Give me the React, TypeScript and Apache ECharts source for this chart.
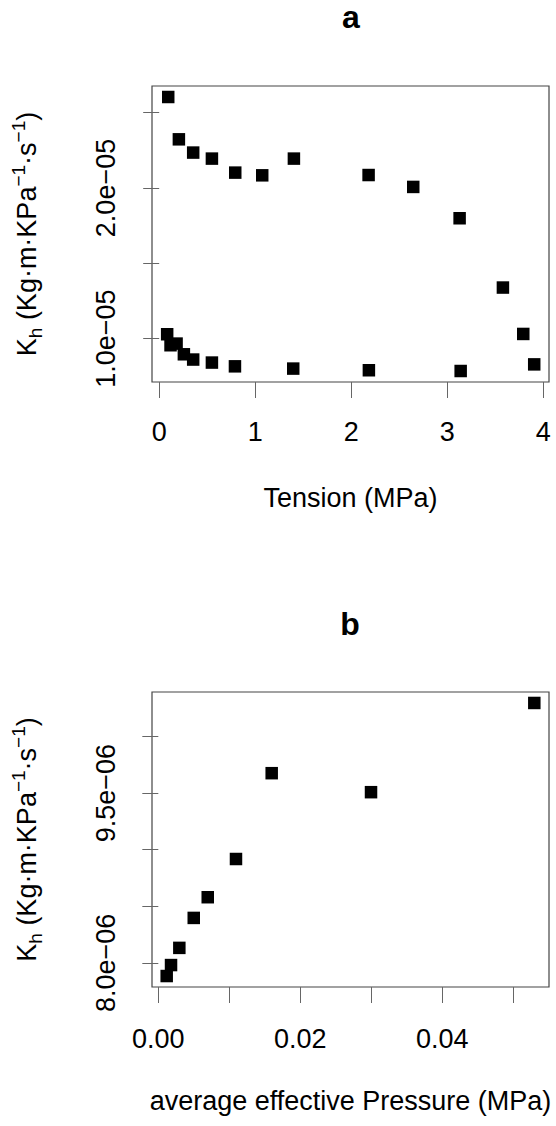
import React, { useEffect, useRef } from "react";
import * as echarts from "echarts";

// ---------- data ----------
// Panel a: hydraulic conductance vs tension
const tensionUpper = [0.094, 0.205, 0.354, 0.549, 0.792, 1.073, 1.403, 2.181, 2.646, 3.129, 3.58, 3.792, 3.906];
const khUpper = [2.604e-5, 2.323e-5, 2.235e-5, 2.195e-5, 2.102e-5, 2.084e-5, 2.195e-5, 2.086e-5, 2.007e-5, 1.799e-5, 1.339e-5, 1.031e-5, 0.829e-5];
const tensionLower = [0.083, 0.118, 0.181, 0.257, 0.354, 0.549, 0.789, 1.396, 2.184, 3.14];
const khLower = [1.029e-5, 0.956e-5, 0.967e-5, 0.896e-5, 0.861e-5, 0.841e-5, 0.816e-5, 0.801e-5, 0.79e-5, 0.785e-5];

// Panel b: hydraulic conductance vs average effective pressure
const pressure = [0.00118, 0.00179, 0.00296, 0.00499, 0.00696, 0.01094, 0.01597, 0.02996, 0.05296];
const khPressure = [7.883e-6, 7.98e-6, 8.132e-6, 8.397e-6, 8.58e-6, 8.918e-6, 9.677e-6, 9.509e-6, 10.298e-6];

// Ticks
const xTicksA = [0, 1, 2, 3, 4];
const yTicksA = [1.0e-5, 1.5e-5, 2.0e-5, 2.5e-5];
const yLabelsA = [1.0e-5, 2.0e-5];
const xTicksB = [0, 0.01, 0.02, 0.03, 0.04, 0.05];
const xLabelsB = [0, 0.02, 0.04];
const yTicksB = [8.0e-6, 8.5e-6, 9.0e-6, 9.5e-6, 10.0e-6];
const yLabelsB = [8.0e-6, 9.5e-6];

const titles = ["a", "b"];
const xNames = ["Tension (MPa)", "average effective Pressure (MPa)"];

// ---------- styling ----------
const FONT = '"Liberation Sans", Arial, Helvetica, sans-serif';
const FS = 27;
const BOX = "#444";
const TICK = "#666";

const yName = "{n|K}{sub|h}{n| (Kg·m·KPa}{sup|−1}{n|·s}{sup|−1}{n|)}";
const yRich = {
  n: { fontSize: FS, fontFamily: FONT, color: "#000", lineHeight: 36 },
  sub: { fontSize: 19, fontFamily: FONT, color: "#000", lineHeight: 19, verticalAlign: "bottom" },
  sup: { fontSize: 19, fontFamily: FONT, color: "#000", lineHeight: 19, verticalAlign: "top" },
};

const sci = (v: number, exp: number) => {
  const m = v / Math.pow(10, exp);
  return m.toFixed(1) + "e−0" + String(-exp);
};

const labelStyle = { color: "#000", fontSize: FS, fontFamily: FONT };

function buildOption() {
  const grids = [
    { left: 152, top: 86, width: 397, height: 296 },
    { left: 152, top: 692, width: 397, height: 295 },
  ].map((g) => ({ ...g, show: true, borderColor: BOX, borderWidth: 1.2, backgroundColor: "transparent" }));

  const tickStyle = { show: true, length: 16, lineStyle: { color: TICK, width: 1 } };

  const xAxis = [
    {
      type: "value", gridIndex: 0, min: -0.075, max: 4.06,
      axisLine: { show: false }, splitLine: { show: false },
      axisTick: { ...tickStyle, customValues: xTicksA },
      axisLabel: { ...labelStyle, margin: 36, customValues: xTicksA, formatter: (v: number) => String(Math.round(v)) },
      name: xNames[0], nameLocation: "middle", nameGap: 102,
      nameTextStyle: { ...labelStyle },
    },
    {
      type: "value", gridIndex: 1, min: -0.00089, max: 0.05503,
      axisLine: { show: false }, splitLine: { show: false },
      axisTick: { ...tickStyle, customValues: xTicksB },
      axisLabel: { ...labelStyle, margin: 38, customValues: xLabelsB, formatter: (v: number) => v.toFixed(2) },
      name: xNames[1], nameLocation: "middle", nameGap: 100,
      nameTextStyle: { ...labelStyle },
    },
  ];

  const yAxis = [
    {
      type: "value", gridIndex: 0, min: 0.712e-5, max: 2.677e-5,
      axisLine: { show: false }, splitLine: { show: false },
      axisTick: { ...tickStyle, customValues: yTicksA },
      axisLabel: { ...labelStyle, rotate: 90, margin: 33, customValues: yLabelsA, formatter: (v: number) => sci(v, -5) },
      name: yName, nameLocation: "middle", nameGap: 107,
      nameTextStyle: { rich: yRich },
    },
    {
      type: "value", gridIndex: 1, min: 7.786e-6, max: 10.395e-6,
      axisLine: { show: false }, splitLine: { show: false },
      axisTick: { ...tickStyle, customValues: yTicksB },
      axisLabel: { ...labelStyle, rotate: 90, margin: 33, customValues: yLabelsB, formatter: (v: number) => sci(v, -6) },
      name: yName, nameLocation: "middle", nameGap: 107,
      nameTextStyle: { rich: yRich },
    },
  ];

  const pts = (xs: number[], ys: number[]) => xs.map((x, i) => [x, ys[i]]);
  const sq = { type: "scatter", symbol: "rect", symbolSize: 12.5, itemStyle: { color: "#000", opacity: 1 }, silent: true };

  const series = [
    { ...sq, name: "upper", xAxisIndex: 0, yAxisIndex: 0, data: pts(tensionUpper, khUpper) },
    { ...sq, name: "lower", xAxisIndex: 0, yAxisIndex: 0, data: pts(tensionLower, khLower) },
    { ...sq, name: "pressure", xAxisIndex: 1, yAxisIndex: 1, data: pts(pressure, khPressure) },
  ];

  const graphic = [
    { type: "text", x: 351, y: 17, style: { text: titles[0], fontSize: 32, fontWeight: "bold", fontFamily: FONT, fill: "#000", align: "center", verticalAlign: "middle" } },
    { type: "text", x: 350, y: 624, style: { text: titles[1], fontSize: 32, fontWeight: "bold", fontFamily: FONT, fill: "#000", align: "center", verticalAlign: "middle" } },
  ];

  return {
    animation: false,
    backgroundColor: "#fff",
    grid: grids,
    xAxis,
    yAxis,
    series,
    graphic,
  };
}

export default function App() {
  const ref = useRef<HTMLDivElement>(null);
  useEffect(() => {
    document.body.style.margin = "0";
    const chart = echarts.init(ref.current as HTMLDivElement, null, { renderer: "svg" });
    chart.setOption(buildOption() as any);
    return () => chart.dispose();
  }, []);
  return <div ref={ref} style={{ width: 556, height: 1126 }} />;
}
